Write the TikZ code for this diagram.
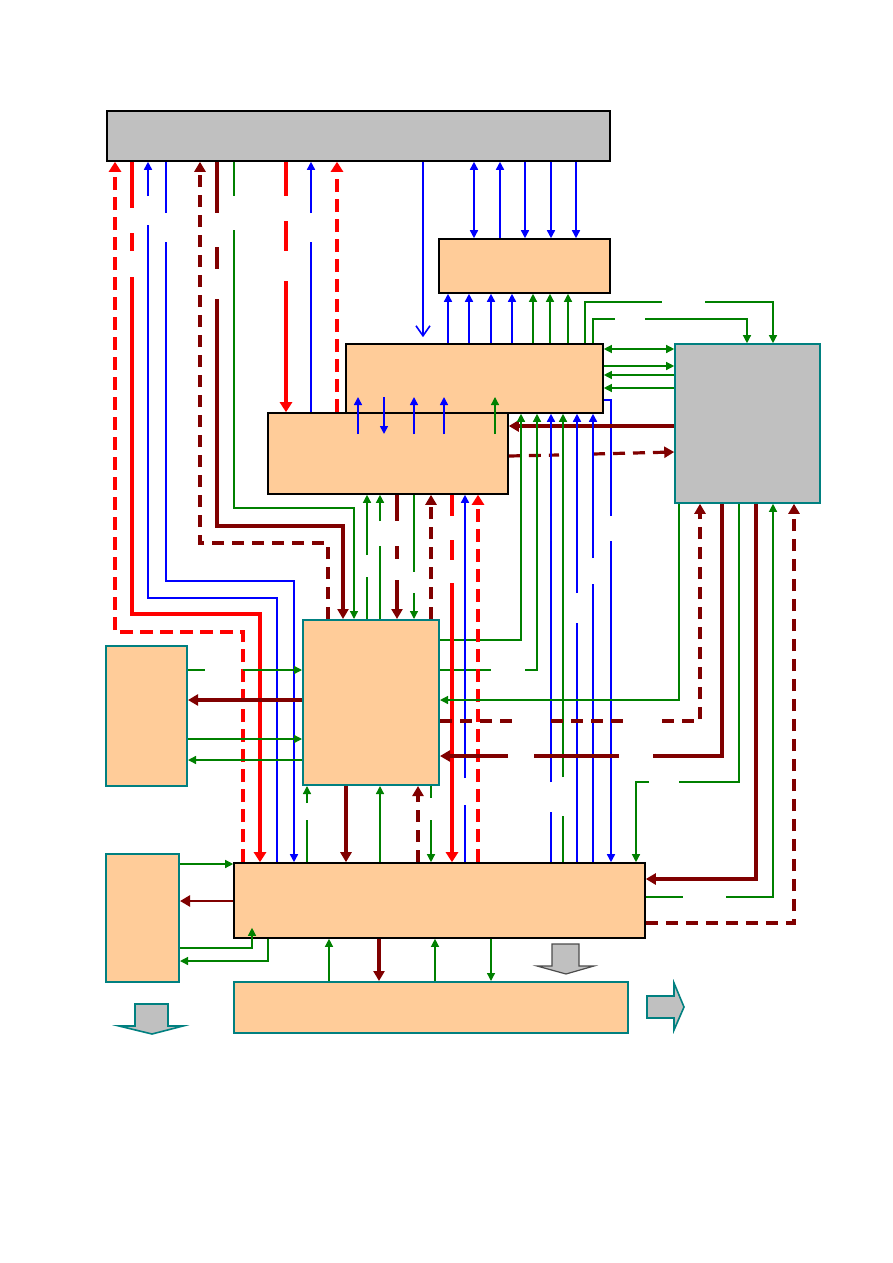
\documentclass[tikz,border=0pt]{standalone}
\usepackage{tikz}
\usetikzlibrary{arrows.meta, fit}
\definecolor{peach}{RGB}{255,204,153}
\definecolor{panel}{RGB}{192,192,192}
\definecolor{wire}{RGB}{0,128,0}
\definecolor{maroon}{RGB}{128,0,0}
\definecolor{rim}{RGB}{0,128,128}

\begin{document}
\begin{tikzpicture}[x=0.5pt, y=-0.5pt,
    box/.style={fill=peach, draw=black, line width=0.8pt, inner sep=0pt},
    tbox/.style={fill=peach, draw=rim, line width=1pt, inner sep=0pt},
    gbox/.style={fill=panel, draw=black, line width=0.8pt, inner sep=0pt},
    bl/.style={draw=blue, line width=0.8pt, >={Triangle[length=4pt,width=4pt]}},
    gr/.style={draw=wire, line width=0.65pt, >={Triangle[length=4pt,width=4pt]}},
    rd/.style={draw=red, line width=2pt, >={Triangle[length=5pt,width=6pt]}},
    rdd/.style={rd, dash pattern=on 6.5pt off 3.5pt},
    mr/.style={draw=maroon, line width=1.6pt, >={Triangle[length=5pt,width=5.5pt]}},
    mrd/.style={mr, dash pattern=on 6pt off 4pt}]
    \useasboundingbox (0,0) rectangle (893,1263);
    % blocks
    \node[gbox, fit={(107,111) (610,161)}] (head) {};
    \node[box, fit={(439,239) (610,293)}] (cache) {};
    \node[box, fit={(346,344) (603,413)}] (sched) {};
    \node[box, fit={(268,413) (508,494)}] (proc) {};
    \node[gbox, draw=rim, fit={(675,344) (820,503)}] (guard) {};
    \node[tbox, fit={(303,620) (439,785)}] (core) {};
    \node[tbox, fit={(106,646) (187,786)}] (feed) {};
    \node[tbox, fit={(106,854) (179,982)}] (sink) {};
    \node[box, fit={(234,863) (645,938)}] (bank) {};
    \node[tbox, fit={(234,982) (628,1033)}] (store) {};
    % big arrows
    \draw[fill=panel, draw=black!70, line width=0.6pt] (552,944) -- (579,944) -- (579,966) -- (594,966) -- (566,974) -- (537,966) -- (552,966) -- cycle;
    \draw[fill=panel, draw=rim, line width=0.8pt] (647,996) -- (674,996) -- (674,983) -- (684,1007) -- (674,1030) -- (674,1018) -- (647,1018) -- cycle;
    \draw[fill=panel, draw=rim, line width=0.8pt] (135,1004) -- (168,1004) -- (168,1026) -- (183,1026) -- (152,1034) -- (119,1026) -- (135,1026) -- cycle;

    % head <-> lower blocks
    \draw[rdd, ->] (bank.north -| 243,0) -- (243,632) -- (115,632) -- (head.south -| 115,0);
    \draw[rd, ->] (head.south -| 132,0) -- (132,208) (132,233) -- (132,251) (132,277) -- (132,614) -- (260,614) -- (bank.north -| 260,0);
    \draw[bl, ->] (bank.north -| 277,0) -- (277,598) -- (148,598) -- (148,225) (148,196) -- (head.south -| 148,0);
    \draw[bl, ->] (head.south -| 166,0) -- (166,213) (166,242) -- (166,581) -- (294,581) -- (bank.north -| 294,0);
    \draw[mrd, ->] (core.north -| 328,0) -- (328,543) -- (200,543) -- (head.south -| 200,0);
    \draw[mr, ->] (head.south -| 217,0) -- (217,213) (217,247) -- (217,269) (217,299) -- (217,526) -- (343,526) -- (core.north -| 343,0);
    \draw[gr, ->] (head.south -| 234,0) -- (234,196) (234,230) -- (234,508) -- (354,508) -- (core.north -| 354,0);
    \draw[rd, ->] (head.south -| 286,0) -- (286,196) (286,221) -- (286,251) (286,281) -- (proc.north -| 286,0);
    \draw[bl, ->] (proc.north -| 311,0) -- (311,242) (311,213) -- (head.south -| 311,0);
    \draw[rdd, ->] (proc.north -| 337,0) -- (head.south -| 337,0);
    \draw[bl, -{Straight Barb[length=5pt,width=7pt]}, shorten >=3pt] (head.south -| 423,0) -- (sched.north -| 423,0);

    % head <-> cache <-> sched
    \draw[bl, <->] (head.south -| 474,0) -- (cache.north -| 474,0);
    \draw[bl, ->] (cache.north -| 500,0) -- (head.south -| 500,0);
    \foreach \x in {525,551,576} \draw[bl, ->] (head.south -| \x,0) -- (cache.north -| \x,0);
    \foreach \x in {448,469,491,512} \draw[bl, ->] (sched.north -| \x,0) -- (cache.south -| \x,0);
    \foreach \x in {533,550,568} \draw[gr, ->] (sched.north -| \x,0) -- (cache.south -| \x,0);

    % sched <-> guard
    \draw[gr, ->] (sched.north -| 585,0) -- (585,302) -- (662,302) (705,302) -- (773,302) -- (guard.north -| 773,0);
    \draw[gr, ->] (sched.north -| 593,0) -- (593,319) -- (615,319) (645,319) -- (747,319) -- (guard.north -| 747,0);
    \draw[gr, <->] (sched.east |- 0,349) -- (guard.west |- 0,349);
    \draw[gr, ->] (sched.east |- 0,366) -- (guard.west |- 0,366);
    \draw[gr, ->] (guard.west |- 0,375) -- (sched.east |- 0,375);
    \draw[gr, ->] (guard.west |- 0,388) -- (sched.east |- 0,388);
    \draw[bl, ->] (sched.east |- 0,400) -- (611,400) -- (611,516) (611,541) -- (bank.north -| 611,0);
    \draw[mr, ->] (guard.west |- 0,426) -- (proc.east |- 0,426);
    \draw[mrd, ->] (proc.east |- 0,456) -- (559,455) (593,454) -- (guard.west |- 0,452);

    % proc -> sched
    \foreach \x in {358,414,444} \draw[bl, ->] (\x,434) -- (\x,397);
    \draw[bl, ->] (384,397) -- (384,434);
    \draw[gr, ->] (495,434) -- (495,397);

    % into sched from below
    \draw[gr, ->] (core.east |- 0,640) -- (521,640) -- (sched.south -| 521,0);
    \draw[gr, ->] (core.east |- 0,670) -- (491,670) (525,670) -- (537,670) -- (sched.south -| 537,0);
    \draw[bl, ->] (bank.north -| 551,0) -- (551,812) (551,782) -- (sched.south -| 551,0);
    \draw[gr, ->] (bank.north -| 563,0) -- (563,816) (563,777) -- (sched.south -| 563,0);
    \draw[bl, ->] (bank.north -| 577,0) -- (577,623) (577,593) -- (sched.south -| 577,0);
    \draw[bl, ->] (bank.north -| 593,0) -- (593,584) (593,558) -- (sched.south -| 593,0);

    % proc <-> core, bank
    \draw[gr, ->] (core.north -| 367,0) -- (367,577) (367,555) -- (proc.south -| 367,0);
    \draw[gr, ->] (core.north -| 380,0) -- (380,546) (380,521) -- (proc.south -| 380,0);
    \draw[mr, ->] (proc.south -| 397,0) -- (397,521) (397,546) -- (397,559) (397,580) -- (core.north -| 397,0);
    \draw[gr, ->] (proc.south -| 414,0) -- (414,572) (414,593) -- (core.north -| 414,0);
    \draw[mrd, ->] (core.north -| 431,0) -- (proc.south -| 431,0);
    \draw[rd, ->] (proc.south -| 452,0) -- (452,516) (452,540) -- (452,560) (452,583) -- (bank.north -| 452,0);
    \draw[bl, ->] (bank.north -| 465,0) -- (465,805) (465,778) -- (proc.south -| 465,0);
    \draw[rdd, ->] (bank.north -| 478,0) -- (proc.south -| 478,0);

    % guard <-> core, bank
    \draw[gr, ->] (guard.south -| 679,0) -- (679,700) -- (core.east |- 0,700);
    \draw[mrd, ->] (core.east |- 0,721) -- (512,721) (551,721) -- (623,721) (662,721) -- (700,721) -- (guard.south -| 700,0);
    \draw[mr, ->] (guard.south -| 722,0) -- (722,756) -- (653,756) (619,756) -- (534,756) (508,756) -- (core.east |- 0,756);
    \draw[gr, ->] (guard.south -| 739,0) -- (739,782) -- (679,782) (649,782) -- (636,782) -- (bank.north -| 636,0);
    \draw[mr, ->] (guard.south -| 756,0) -- (756,879) -- (bank.east |- 0,879);
    \draw[gr, ->] (bank.east |- 0,897) -- (683,897) (726,897) -- (773,897) -- (guard.south -| 773,0);
    \draw[mrd, ->] (bank.east |- 0,923) -- (794,923) -- (guard.south -| 794,0);

    % feed <-> core
    \draw[gr, ->] (feed.east |- 0,670) -- (205,670) (243,670) -- (core.west |- 0,670);
    \draw[mr, ->] (core.west |- 0,700) -- (feed.east |- 0,700);
    \draw[gr, ->] (feed.east |- 0,739) -- (core.west |- 0,739);
    \draw[gr, ->] (core.west |- 0,760) -- (feed.east |- 0,760);

    % core <-> bank
    \draw[gr, ->] (bank.north -| 307,0) -- (307,820) (307,803) -- (core.south -| 307,0);
    \draw[mr, ->] (core.south -| 346,0) -- (bank.north -| 346,0);
    \draw[gr, ->] (bank.north -| 380,0) -- (core.south -| 380,0);
    \draw[mrd, ->] (bank.north -| 418,0) -- (core.south -| 418,0);
    \draw[gr, ->] (core.south -| 431,0) -- (431,798) (431,820) -- (bank.north -| 431,0);

    % sink <-> bank
    \draw[gr, ->] (sink.east |- 0,864) -- (bank.west |- 0,864);
    \draw[mr, line width=1.2pt, ->] (bank.west |- 0,901) -- (sink.east |- 0,901);
    \draw[gr, ->] (sink.east |- 0,948) -- (252,948) -- ([yshift=5.5pt]bank.south -| 252,0);
    \draw[gr, ->] (bank.south -| 268,0) -- (268,961) -- (sink.east |- 0,961);

    % bank <-> store
    \foreach \x in {329,435} \draw[gr, ->] (store.north -| \x,0) -- (bank.south -| \x,0);
    \draw[mr, ->] (bank.south -| 379,0) -- (store.north -| 379,0);
    \draw[gr, ->] (bank.south -| 491,0) -- (store.north -| 491,0);
\end{tikzpicture}
\end{document}
